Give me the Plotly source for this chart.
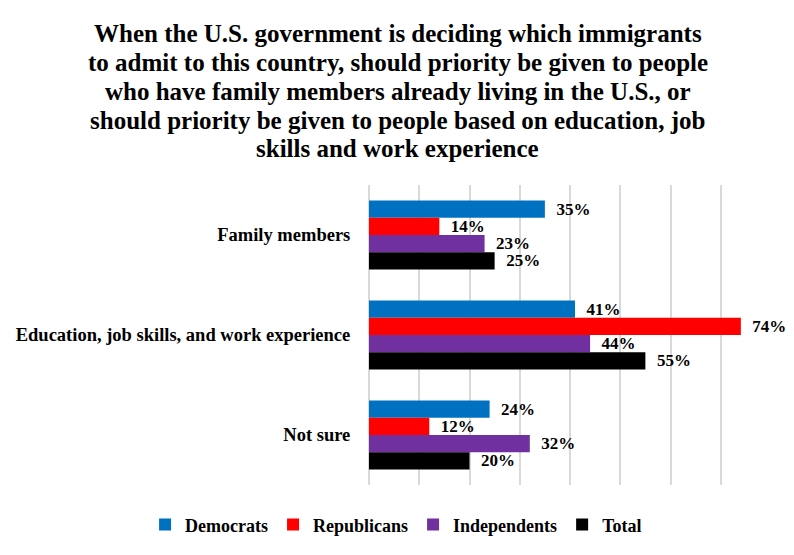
import plotly.graph_objects as go

# answer categories, top to bottom
categories = ["Family members", "Education, job skills, and work experience", "Not sure"]

# share of each group (%)
democrats = [35, 41, 24]
republicans = [14, 74, 12]
independents = [23, 44, 32]
total = [25, 55, 20]

series = [
    ("Democrats", democrats, "#0070C0"),
    ("Republicans", republicans, "#FF0000"),
    ("Independents", independents, "#7030A0"),
    ("Total", total, "#000000"),
]

title_lines = [
    "When the U.S. government is deciding which immigrants",
    "to admit to this country, should priority be given to people",
    "who have family members already living in the U.S., or",
    "should priority be given to people based on education, job",
    "skills and work experience",
]

font_family = "Liberation Serif, Times New Roman, serif"

fig = go.Figure()

for name, values, color in series:
    fig.add_trace(go.Bar(
        y=categories, x=values, name="<b>" + name + "</b>", orientation="h",
        marker=dict(color=color, line=dict(width=0)),
        text=[f"\u2002{v}%" for v in values],
        texttemplate="<b>%{text}</b>",
        textposition="outside",
        textfont=dict(family=font_family, size=17, color="#000000"),
        constraintext="none",
        cliponaxis=False,
    ))

# title drawn line by line to get the tight line spacing of the original
# (plot area spans 300px from y=177 to y=477 in figure pixels)
for i, line in enumerate(title_lines):
    fig.add_annotation(
        text="<b>" + line + "</b>", showarrow=False,
        xref="paper", x=0.072, xanchor="center",
        yref="paper", y=(477 - (26 + i * 28.7)) / 300, yanchor="middle",
        font=dict(size=25, family=font_family, color="#000000"),
    )

# the page body adds an 8px offset, so the figure is 8px smaller on each side
fig.update_layout(
    width=786, height=547,
    margin=dict(l=361, r=23, t=177, b=70, autoexpand=False),
    paper_bgcolor="white", plot_bgcolor="white",
    barmode="group", bargap=0.31, bargroupgap=0,
    font=dict(family=font_family, color="#000000"),
    legend=dict(orientation="h", x=-0.557, xanchor="left",
                y=-0.133, yanchor="middle", traceorder="normal",
                font=dict(size=18, family=font_family, color="#000000")),
    showlegend=True,
)

fig.update_xaxes(range=[0, 80], dtick=10, showticklabels=False,
                 showgrid=True, gridcolor="#D9D9D9", gridwidth=1.5,
                 zeroline=True, zerolinecolor="#D9D9D9", zerolinewidth=1.5,
                 automargin=False, fixedrange=True)
fig.update_yaxes(autorange="reversed", showgrid=False,
                 ticks="outside", ticklen=14, tickcolor="rgba(0,0,0,0)",
                 tickvals=categories,
                 ticktext=["<b>" + c + "</b>" for c in categories],
                 tickfont=dict(size=18.5, family=font_family, color="#000000"),
                 automargin=False, fixedrange=True)

fig.write_html("out.html")
